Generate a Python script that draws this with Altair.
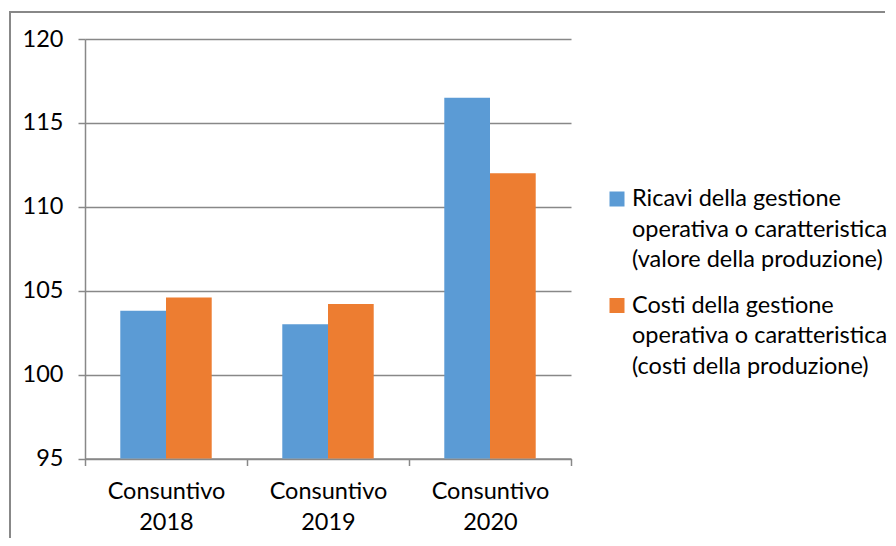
import altair as alt
import pandas as pd

categories = ["Consuntivo 2018", "Consuntivo 2019", "Consuntivo 2020"]
series = [
    "Ricavi della gestione\noperativa o caratteristica\n(valore della produzione)",
    "Costi della gestione\noperativa o caratteristica\n(costi della produzione)",
]
ricavi = [103.8, 103.0, 116.5]
costi = [104.6, 104.2, 112.0]
colors = ["#5B9BD5", "#ED7D31"]
y_ticks = [95, 100, 105, 110, 115, 120]

rows = []
for i, c in enumerate(categories):
    rows.append({"cat": c, "serie": series[0], "val": ricavi[i]})
    rows.append({"cat": c, "serie": series[1], "val": costi[i]})
df = pd.DataFrame(rows)
legend_df = pd.DataFrame({"serie": series, "idx": list(range(len(series)))})

FONT = "Lato"
GRID = "#888888"
FS = 23.5
LH = 30.5

color_scale = alt.Scale(domain=series, range=colors)

bars = alt.Chart(df).mark_bar().encode(
    x=alt.X(
        "cat:N", sort=categories, title=None,
        scale=alt.Scale(paddingInner=0, paddingOuter=0),
        axis=alt.Axis(
            labelAngle=0, labelExpr="split(datum.label, ' ')", tickBand="extent",
            domainColor=GRID, domainWidth=1.5, tickColor=GRID, tickWidth=1.5, tickSize=7,
            labelFont=FONT, labelFontSize=FS, labelColor="#000000", labelPadding=14,
            labelLineHeight=LH, labelBaseline="top", grid=False,
        ),
    ),
    xOffset=alt.XOffset("serie:N", sort=series,
                        scale=alt.Scale(paddingInner=0, paddingOuter=0.772)),
    y=alt.Y(
        "val:Q", title=None,
        scale=alt.Scale(domain=[95, 120], nice=False, zero=False),
        axis=alt.Axis(
            values=y_ticks, domainColor=GRID, domainWidth=1.5, tickColor=GRID, tickWidth=1.5,
            tickSize=7, gridColor=GRID, gridWidth=1.5, labelFont=FONT, labelFontSize=FS,
            labelColor="#000000", labelPadding=15,
        ),
    ),
    y2=alt.datum(95),
    color=alt.Color("serie:N", sort=series, scale=color_scale, legend=None),
)

leg_y = alt.Y("idx:O", scale=alt.Scale(type="point", domain=[0, 1], range=[160, 266.5], padding=0),
              axis=None, title=None)

leg_sq = alt.Chart(legend_df).mark_square(size=225, opacity=1, filled=True).encode(
    x=alt.value(532), y=leg_y,
    color=alt.Color("serie:N", sort=series, scale=color_scale, legend=None),
)
leg_tx = alt.Chart(legend_df).mark_text(
    align="left", baseline="middle", lineBreak="\n", lineHeight=LH,
    font=FONT, fontSize=FS, color="#000000",
).encode(x=alt.value(547), y=leg_y, text="serie:N")

frame_left = alt.Chart(alt.Data(values=[{}])).mark_rule(color=GRID, strokeWidth=2).encode(
    x=alt.value(-75), y=alt.value(-27), y2=alt.value(499)
)
frame_top = alt.Chart(alt.Data(values=[{}])).mark_rule(color=GRID, strokeWidth=2).encode(
    x=alt.value(-76), x2=alt.value(800), y=alt.value(-27)
)

chart = alt.layer(bars, leg_sq, leg_tx, frame_left, frame_top).resolve_scale(
    y="independent"
).properties(
    width=486, height=419.5,
    padding={"left": 0, "top": 3, "right": 0, "bottom": 0},
).configure_view(stroke=None)

chart.save("out.html", embed_options={"renderer": "svg", "actions": False})
